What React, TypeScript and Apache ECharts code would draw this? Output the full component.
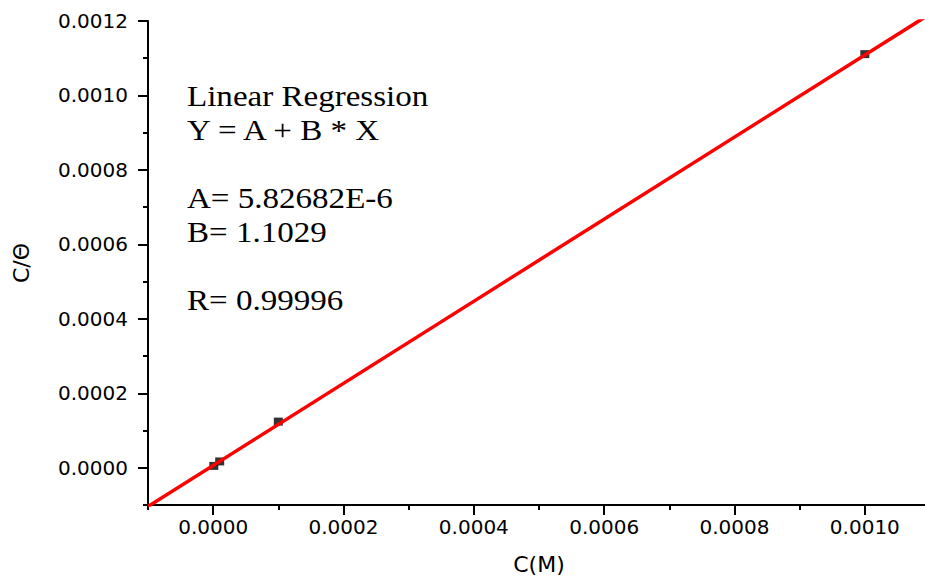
import React, { useEffect, useRef } from "react";
import * as echarts from "echarts";

// Measured data points
const concData = [0.000001, 0.00001, 0.0001, 0.001];
const ratioData = [0.000005, 0.000017, 0.000124, 0.001111];

// Regression line endpoints (Y = A + B*X, A=5.82682E-6, B=1.1029)
const fitX = [-0.0001, 0.0011];
const fitY = [-0.000104, 0.001219];

// Tick values
const xMajorTicks = [0, 0.0002, 0.0004, 0.0006, 0.0008, 0.001];
const yMajorTicks = [0, 0.0002, 0.0004, 0.0006, 0.0008, 0.001, 0.0012];

// Annotation lines
const annotationLines = [
  "Linear Regression",
  "Y = A + B * X",
  "",
  "A= 5.82682E-6",
  "B= 1.1029",
  "",
  "R= 0.99996",
];

const xTitle = "C(M)";
const yTitle = "C/Θ";

export default function App() {
  const ref = useRef<HTMLDivElement>(null);
  useEffect(() => {
    if (!ref.current) return;
    const chart = echarts.init(ref.current, null, { renderer: "svg" });
    const sans = "DejaVu Sans";
    const axisCommon = {
      type: "value",
      splitLine: { show: false },
    };
    const option: any = {
      animation: false,
      backgroundColor: "#fff",
      grid: {
        left: 148,
        right: -5,
        top: 21,
        bottom: 74,
        containLabel: false,
        outerBoundsMode: "none",
      },
      xAxis: [
        {
          ...axisCommon,
          min: -0.0001,
          max: 0.0011,
          position: "bottom",
          axisLine: { show: true, onZero: false, lineStyle: { color: "#000", width: 2 } },
          axisTick: {
            show: true,
            customValues: xMajorTicks,
            length: 10,
            lineStyle: { color: "#000", width: 2 },
          },
          axisLabel: {
            customValues: xMajorTicks,
            formatter: (v: number) => v.toFixed(4),
            color: "#000",
            fontFamily: sans,
            fontSize: 20,
            margin: 12,
          },
          name: xTitle,
          nameLocation: "middle",
          nameGap: 48,
          nameTextStyle: { color: "#000", fontFamily: sans, fontSize: 22 },
        },
        {
          ...axisCommon,
          min: -0.0001,
          max: 0.0011,
          interval: 0.0001,
          position: "bottom",
          axisLine: { show: false, onZero: false },
          axisTick: { show: true, length: 5, lineStyle: { color: "#000", width: 2 } },
          axisLabel: { show: false },
        },
      ],
      yAxis: [
        {
          ...axisCommon,
          min: -0.0001,
          max: 0.0012,
          position: "left",
          axisLine: { show: true, onZero: false, lineStyle: { color: "#000", width: 2 } },
          axisTick: {
            show: true,
            customValues: yMajorTicks,
            length: 10,
            lineStyle: { color: "#000", width: 2 },
          },
          axisLabel: {
            customValues: yMajorTicks,
            formatter: (v: number) => v.toFixed(4),
            color: "#000",
            fontFamily: sans,
            fontSize: 20,
            margin: 20,
          },
          name: yTitle,
          nameLocation: "middle",
          nameGap: 116,
          nameRotate: 90,
          nameTextStyle: { color: "#000", fontFamily: sans, fontSize: 22 },
        },
        {
          ...axisCommon,
          min: -0.0001,
          max: 0.0012,
          interval: 0.0001,
          position: "left",
          axisLine: { show: false, onZero: false },
          axisTick: { show: true, length: 5, lineStyle: { color: "#000", width: 2 } },
          axisLabel: { show: false },
        },
      ],
      series: [
        {
          type: "line",
          xAxisIndex: 0,
          yAxisIndex: 0,
          data: fitX.map((x, i) => [x, fitY[i]]),
          showSymbol: false,
          symbol: "none",
          lineStyle: { color: "#ff0000", width: 3.5 },
          clip: true,
          z: 3,
        },
        {
          type: "scatter",
          xAxisIndex: 0,
          yAxisIndex: 0,
          data: concData.map((x, i) => [x, ratioData[i]]),
          symbol: "rect",
          symbolSize: [9, 8],
          itemStyle: { color: "#000" },
          z: 2,
        },
      ],
      graphic: annotationLines.map((t, i) => ({
        type: "text",
        x: 187,
        y: 96 + i * 34,
        scaleX: 1.14,
        style: {
          text: t,
          fill: "#000",
          font: '29px "Liberation Serif"',
          textAlign: "left",
          textVerticalAlign: "middle",
        },
      })),
    };
    chart.setOption(option);
    return () => chart.dispose();
  }, []);
  return (
    <div
      ref={ref}
      style={{ position: "fixed", left: 0, top: 0, width: 925, height: 579 }}
    />
  );
}
